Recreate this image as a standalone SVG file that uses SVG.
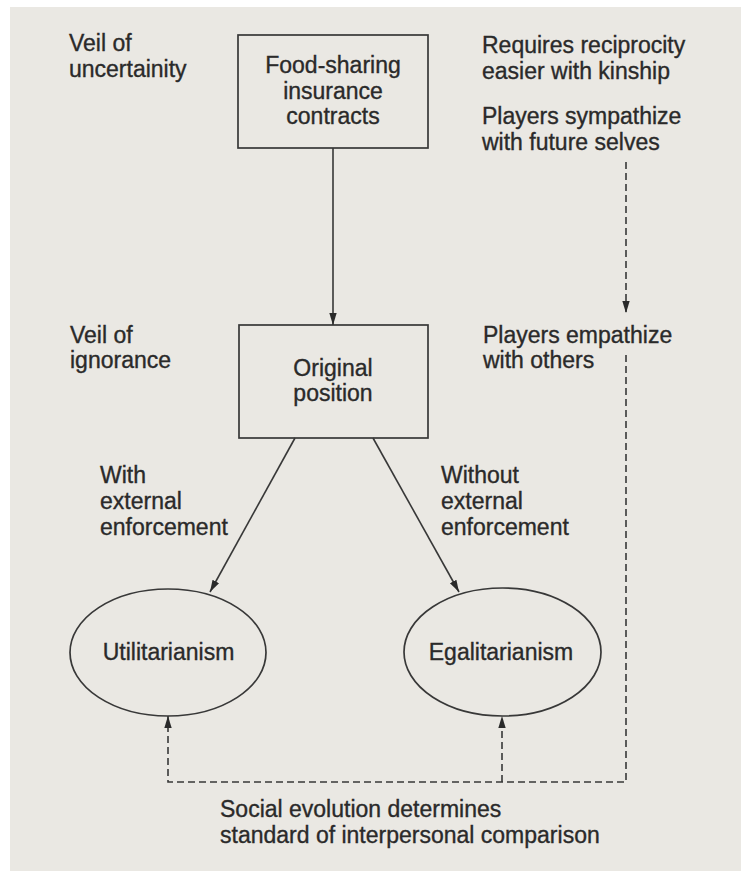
<svg xmlns="http://www.w3.org/2000/svg" width="741" height="871" viewBox="0 0 741 871">
<defs>
<style>
text{font-family:"Liberation Sans",Arial,Helvetica,sans-serif;font-size:23px;fill:#2a2a2a;stroke:#2a2a2a;stroke-width:0.35}
.c{text-anchor:middle}
.node{fill:none;stroke:#383838;stroke-width:1.7}
.ln{fill:none;stroke:#383838;stroke-width:1.6}
.dash{stroke-dasharray:7 4}
</style>
<marker id="ah" markerUnits="userSpaceOnUse" markerWidth="12" markerHeight="10" viewBox="0 0 12 10" refX="12" refY="5" orient="auto">
<path d="M0,1.3 L12,5 L0,8.7 Z" fill="#2a2a2a"/>
</marker>
</defs>
<rect x="0" y="0" width="741" height="871" fill="#ffffff"/>
<rect x="10" y="7" width="731" height="864" fill="#eae8e3"/>

<g id="label-veil-uncertainty">
<text x="69" y="51">Veil of</text>
<text x="69" y="77">uncertainity</text>
</g>
<g id="node-food-sharing">
<rect class="node" x="238" y="35" width="190" height="113"/>
<text class="c" x="333" y="73">Food-sharing</text>
<text class="c" x="333" y="99">insurance</text>
<text class="c" x="333" y="124">contracts</text>
</g>
<g id="label-reciprocity">
<text x="482" y="53">Requires reciprocity</text>
<text x="482" y="79">easier with kinship</text>
</g>
<g id="label-sympathize">
<text x="482" y="124">Players sympathize</text>
<text x="482" y="150">with future selves</text>
</g>
<g id="label-veil-ignorance">
<text x="70" y="343">Veil of</text>
<text x="70" y="368">ignorance</text>
</g>
<g id="node-original-position">
<rect class="node" x="239" y="325" width="189" height="113"/>
<text class="c" x="333" y="376">Original</text>
<text class="c" x="333" y="401">position</text>
</g>
<g id="label-empathize">
<text x="483" y="343">Players empathize</text>
<text x="483" y="368">with others</text>
</g>
<g id="label-with-enforcement">
<text x="100" y="483">With</text>
<text x="100" y="509">external</text>
<text x="100" y="535">enforcement</text>
</g>
<g id="label-without-enforcement">
<text x="441" y="483">Without</text>
<text x="441" y="509">external</text>
<text x="441" y="535">enforcement</text>
</g>
<g id="node-utilitarianism">
<ellipse class="node" cx="168" cy="652.5" rx="98" ry="63.5"/>
<text class="c" x="168.5" y="660">Utilitarianism</text>
</g>
<g id="node-egalitarianism">
<ellipse class="node" cx="502.5" cy="652" rx="98.5" ry="64"/>
<text class="c" x="501" y="660">Egalitarianism</text>
</g>
<g id="label-social-evolution">
<text x="220" y="817">Social evolution determines</text>
<text x="220" y="843">standard of interpersonal comparison</text>
</g>

<g id="connectors">
<line class="ln" x1="333" y1="148" x2="333" y2="325" marker-end="url(#ah)"/>
<line class="ln" x1="295" y1="438" x2="210" y2="592" marker-end="url(#ah)"/>
<line class="ln" x1="373" y1="438" x2="459" y2="592" marker-end="url(#ah)"/>
<line class="ln dash" x1="626" y1="162" x2="626" y2="313" marker-end="url(#ah)"/>
<path class="ln dash" d="M626,355 V782 H168 V716" marker-end="url(#ah)"/>
<path class="ln dash" d="M502,782 V716" marker-end="url(#ah)"/>
</g>
</svg>
